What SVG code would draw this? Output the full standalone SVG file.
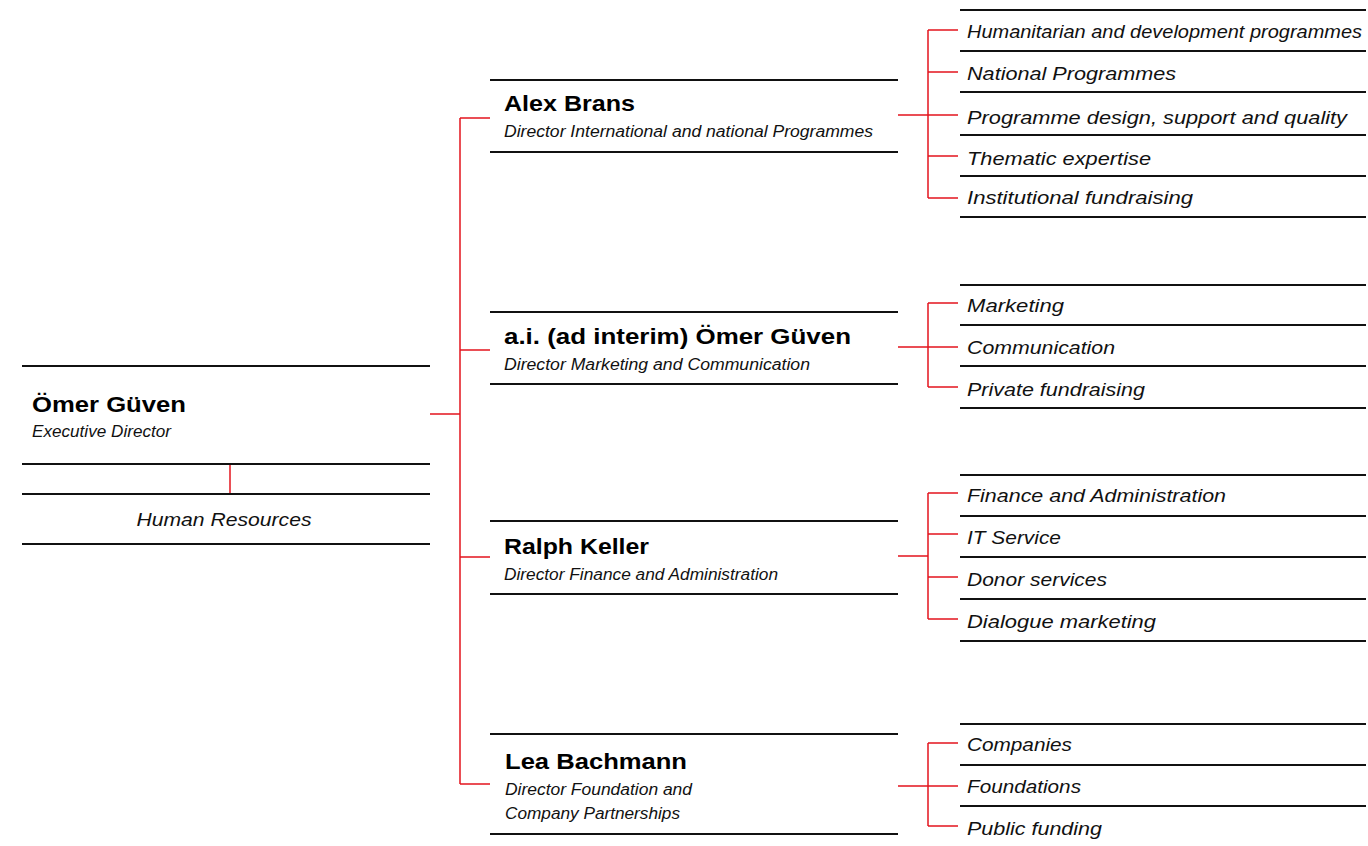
<svg xmlns="http://www.w3.org/2000/svg" width="1368" height="846" viewBox="0 0 1368 846">
<style>
.bl{stroke:#111;stroke-width:2;fill:none}
.rd{stroke:#e3141e;stroke-width:1.5;fill:none}
.nm{font-family:"Liberation Sans",Arial,sans-serif;font-weight:bold;font-size:22px;fill:#000}
.sb{font-family:"Liberation Sans",Arial,sans-serif;font-style:italic;font-size:16px;fill:#111}
.ch{font-family:"Liberation Sans",Arial,sans-serif;font-style:italic;font-size:19px;fill:#111}
</style>
<rect width="1368" height="846" fill="#fff"/>
<g id="connectors">
<path class="rd" d="M230 464V494"/>
<path class="rd" d="M430 414H460M460 118V784M460 118H490M460 350H490M460 557H490M460 784H490"/>
<path class="rd" d="M898 115H958M928 30V198M928 30H958M928 72H958M928 156H958M928 198H958"/>
<path class="rd" d="M898 347H958M928 303V387M928 303H958M928 387H958"/>
<path class="rd" d="M898 556H928M928 493V619M928 493H958M928 534H958M928 577H958M928 619H958"/>
<path class="rd" d="M898 786H958M928 743V826M928 743H958M928 826H958"/>
</g>
<g id="exec">
<path class="bl" d="M22 366H430M22 464H430"/>
<text class="nm" x="32" y="412" textLength="154" lengthAdjust="spacingAndGlyphs">Ömer Güven</text>
<text class="sb" x="32" y="437" textLength="139" lengthAdjust="spacingAndGlyphs">Executive Director</text>
</g>
<g id="hr">
<path class="bl" d="M22 494H430M22 544H430"/>
<text class="ch" x="224" y="526" text-anchor="middle" textLength="175" lengthAdjust="spacingAndGlyphs">Human Resources</text>
</g>
<g id="dir-brans">
<path class="bl" d="M490 80H898M490 152H898"/>
<text class="nm" x="504" y="111" textLength="131" lengthAdjust="spacingAndGlyphs">Alex Brans</text>
<text class="sb" x="504" y="137" textLength="369" lengthAdjust="spacingAndGlyphs">Director International and national Programmes</text>
</g>
<g id="dir-guven">
<path class="bl" d="M490 312H898M490 384H898"/>
<text class="nm" x="504" y="344" textLength="347" lengthAdjust="spacingAndGlyphs">a.i. (ad interim) Ömer Güven</text>
<text class="sb" x="504" y="370" textLength="306" lengthAdjust="spacingAndGlyphs">Director Marketing and Communication</text>
</g>
<g id="dir-keller">
<path class="bl" d="M490 521H898M490 594H898"/>
<text class="nm" x="504" y="554" textLength="145" lengthAdjust="spacingAndGlyphs">Ralph Keller</text>
<text class="sb" x="504" y="580" textLength="274" lengthAdjust="spacingAndGlyphs">Director Finance and Administration</text>
</g>
<g id="dir-bachmann">
<path class="bl" d="M490 734H898M490 834H898"/>
<text class="nm" x="505" y="769" textLength="182" lengthAdjust="spacingAndGlyphs">Lea Bachmann</text>
<text class="sb" x="505" y="795" textLength="187" lengthAdjust="spacingAndGlyphs">Director Foundation and</text>
<text class="sb" x="505" y="819" textLength="175" lengthAdjust="spacingAndGlyphs">Company Partnerships</text>
</g>
<g id="brans-units">
<path class="bl" d="M960 10H1366M960 51H1366M960 92H1366M960 135H1366M960 176H1366M960 217H1366"/>
<text class="ch" x="967" y="38" textLength="395" lengthAdjust="spacingAndGlyphs">Humanitarian and development programmes</text>
<text class="ch" x="967" y="80" textLength="209" lengthAdjust="spacingAndGlyphs">National Programmes</text>
<text class="ch" x="967" y="124" textLength="380" lengthAdjust="spacingAndGlyphs">Programme design, support and quality</text>
<text class="ch" x="967" y="165" textLength="184" lengthAdjust="spacingAndGlyphs">Thematic expertise</text>
<text class="ch" x="967" y="204" textLength="226" lengthAdjust="spacingAndGlyphs">Institutional fundraising</text>
</g>
<g id="guven-units">
<path class="bl" d="M960 285H1366M960 325H1366M960 366H1366M960 408H1366"/>
<text class="ch" x="967" y="312" textLength="97" lengthAdjust="spacingAndGlyphs">Marketing</text>
<text class="ch" x="967" y="354" textLength="148" lengthAdjust="spacingAndGlyphs">Communication</text>
<text class="ch" x="967" y="396" textLength="178" lengthAdjust="spacingAndGlyphs">Private fundraising</text>
</g>
<g id="keller-units">
<path class="bl" d="M960 475H1366M960 516H1366M960 557H1366M960 599H1366M960 641H1366"/>
<text class="ch" x="967" y="502" textLength="259" lengthAdjust="spacingAndGlyphs">Finance and Administration</text>
<text class="ch" x="967" y="544" textLength="94" lengthAdjust="spacingAndGlyphs">IT Service</text>
<text class="ch" x="967" y="586" textLength="140" lengthAdjust="spacingAndGlyphs">Donor services</text>
<text class="ch" x="967" y="628" textLength="189" lengthAdjust="spacingAndGlyphs">Dialogue marketing</text>
</g>
<g id="bachmann-units">
<path class="bl" d="M960 724H1366M960 765H1366M960 806H1366"/>
<text class="ch" x="967" y="751" textLength="105" lengthAdjust="spacingAndGlyphs">Companies</text>
<text class="ch" x="967" y="793" textLength="114" lengthAdjust="spacingAndGlyphs">Foundations</text>
<text class="ch" x="967" y="835" textLength="135" lengthAdjust="spacingAndGlyphs">Public funding</text>
</g>
</svg>
